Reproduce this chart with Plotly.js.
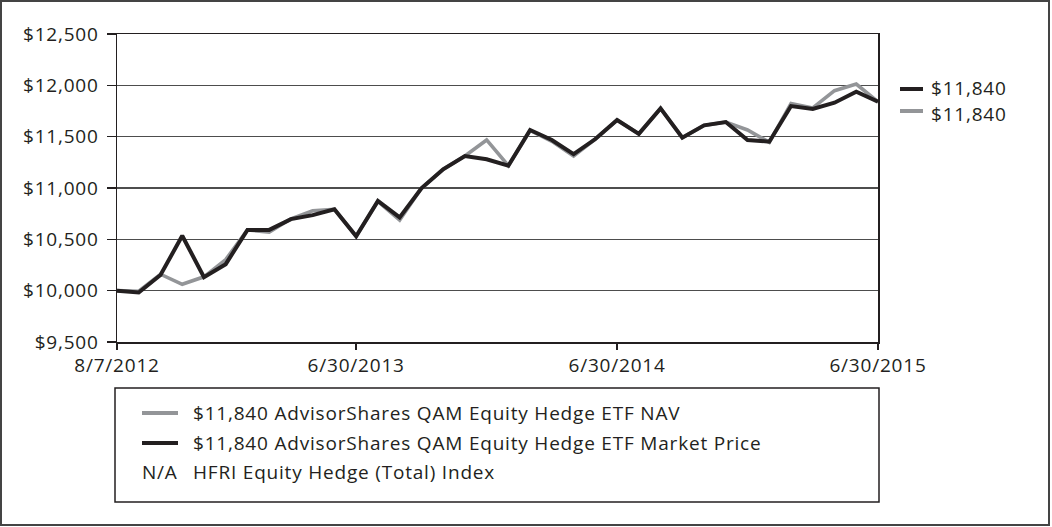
<!DOCTYPE html>
<html>
<head>
<meta charset="utf-8">
<script src="https://cdn.plot.ly/plotly-3.0.1.min.js"></script>
<style>
html,body{margin:0;padding:0;background:#fff;}
#chart{width:1052px;height:527px;}
svg text{letter-spacing:0.8px;}
</style>
</head>
<body>
<div id="chart"></div>
<script>
// ---- data ----
const dates = ['8/7/2012','8/31/2012','9/30/2012','10/31/2012','11/30/2012','12/31/2012',
  '1/31/2013','2/28/2013','3/31/2013','4/30/2013','5/31/2013','6/30/2013',
  '7/31/2013','8/31/2013','9/30/2013','10/31/2013','11/30/2013','12/31/2013',
  '1/31/2014','2/28/2014','3/31/2014','4/30/2014','5/31/2014','6/30/2014',
  '7/31/2014','8/31/2014','9/30/2014','10/31/2014','11/30/2014','12/31/2014',
  '1/31/2015','2/28/2015','3/31/2015','4/30/2015','5/31/2015','6/30/2015'];
const navValues = [10000,9995,10160,10062,10135,10302,10592,10570,10700,10778,10793,10530,
  10870,10688,10997,11182,11312,11468,11217,11560,11455,11312,11477,11662,
  11527,11775,11490,11610,11643,11565,11445,11822,11780,11948,12012,11840];
const marketValues = [10000,9982,10152,10535,10132,10258,10592,10592,10697,10736,10793,10530,
  10874,10714,10997,11182,11312,11280,11217,11565,11468,11330,11477,11662,
  11527,11775,11490,11610,11643,11468,11451,11798,11770,11831,11937,11840];
const xTickLabels = ['8/7/2012','6/30/2013','6/30/2014','6/30/2015'];
const yTickValues = [9500,10000,10500,11000,11500,12000,12500];
const navName = 'AdvisorShares QAM Equity Hedge ETF NAV';
const marketName = 'AdvisorShares QAM Equity Hedge ETF Market Price';
const indexName = 'HFRI Equity Hedge (Total) Index';
const indexValueText = 'N/A';

// ---- styling ----
const DARK = '#231f20';
const GRAY = '#939598';
const FONT = '"Open Sans", "Noto Sans", sans-serif';
const FS = 19;
const L = 117, R = 878, T = 34, B = 342;
const W = 1052, H = 527;
const px = v => (v - L) / (R - L);
const py = v => (B - v) / (B - T);
const fmt = v => '$' + v.toLocaleString('en-US');

const navLast = navValues[navValues.length - 1];
const mktLast = marketValues[marketValues.length - 1];

const traces = [
  {x: dates, y: navValues, type: 'scatter', mode: 'lines', name: navName,
   line: {color: GRAY, width: 3.6}, showlegend: false, hoverinfo: 'x+y'},
  {x: dates, y: marketValues, type: 'scatter', mode: 'lines', name: marketName,
   line: {color: DARK, width: 4}, showlegend: false, hoverinfo: 'x+y'}
];

const shapes = [
  // outer frame
  {type: 'rect', xref: 'paper', yref: 'paper', x0: px(1), x1: px(1049), y0: py(525), y1: py(1),
   line: {color: '#444', width: 2}},
  // legend box
  {type: 'rect', xref: 'paper', yref: 'paper', x0: px(115), x1: px(879), y0: py(502), y1: py(388),
   line: {color: DARK, width: 1.5}},
  // legend swatches
  {type: 'line', xref: 'paper', yref: 'paper', x0: px(142), x1: px(178), y0: py(413), y1: py(413),
   line: {color: GRAY, width: 4}},
  {type: 'line', xref: 'paper', yref: 'paper', x0: px(142), x1: px(178), y0: py(443), y1: py(443),
   line: {color: DARK, width: 4}},
  // end-value swatches
  {type: 'line', xref: 'paper', yref: 'paper', x0: px(900), x1: px(923), y0: py(89), y1: py(89),
   line: {color: DARK, width: 4}},
  {type: 'line', xref: 'paper', yref: 'paper', x0: px(900), x1: px(923), y0: py(111), y1: py(111),
   line: {color: GRAY, width: 4}}
];

const tf = {family: FONT, size: FS, color: DARK};
const annotations = [
  {xref: 'paper', yref: 'paper', x: px(191), y: py(413), xanchor: 'left', yanchor: 'middle',
   text: fmt(navLast) + ' ' + navName, showarrow: false, font: tf},
  {xref: 'paper', yref: 'paper', x: px(191), y: py(443), xanchor: 'left', yanchor: 'middle',
   text: fmt(mktLast) + ' ' + marketName, showarrow: false, font: tf},
  {xref: 'paper', yref: 'paper', x: px(140), y: py(472), xanchor: 'left', yanchor: 'middle',
   text: indexValueText, showarrow: false, font: tf},
  {xref: 'paper', yref: 'paper', x: px(191), y: py(472), xanchor: 'left', yanchor: 'middle',
   text: indexName, showarrow: false, font: tf},
  {xref: 'paper', yref: 'paper', x: px(929), y: py(88), xanchor: 'left', yanchor: 'middle',
   text: fmt(mktLast), showarrow: false, font: tf},
  {xref: 'paper', yref: 'paper', x: px(929), y: py(114), xanchor: 'left', yanchor: 'middle',
   text: fmt(navLast), showarrow: false, font: tf}
];

const layout = {
  width: W, height: H,
  margin: {l: L, r: W - R, t: T, b: H - B, pad: 0},
  paper_bgcolor: '#fff', plot_bgcolor: '#fff',
  font: {family: FONT, size: FS, color: DARK},
  showlegend: false,
  xaxis: {
    type: 'category', range: [0, dates.length - 1],
    tickmode: 'array', tickvals: xTickLabels, ticktext: xTickLabels,
    ticks: 'outside', ticklen: 6, tickwidth: 1.5, tickcolor: DARK,
    showgrid: false, zeroline: false,
    showline: true, linecolor: DARK, linewidth: 1.5, mirror: true,
    tickfont: {family: FONT, size: FS, color: DARK}
  },
  yaxis: {
    range: [9500, 12500], tickmode: 'array', tickvals: yTickValues,
    tickformat: '$,', ticks: 'outside', ticklen: 9, tickwidth: 1.5, tickcolor: DARK,
    ticklabelstandoff: 4,
    showgrid: true, gridcolor: '#4d4d4d', gridwidth: 1.5, zeroline: false,
    showline: true, linecolor: DARK, linewidth: 1.5, mirror: true,
    tickfont: {family: FONT, size: FS, color: DARK}
  },
  shapes: shapes,
  annotations: annotations
};

Plotly.newPlot('chart', traces, layout, {displayModeBar: false, staticPlot: true});
</script>
</body>
</html>
